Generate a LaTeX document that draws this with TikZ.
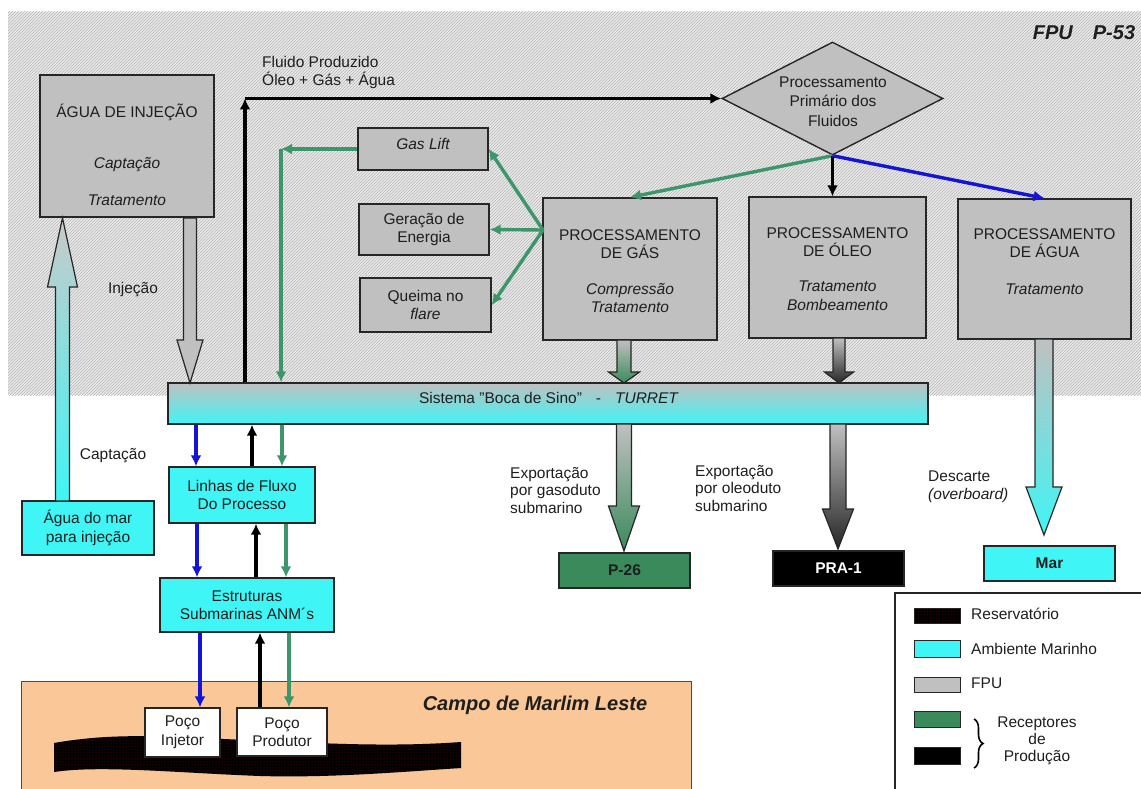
\documentclass[tikz,border=0pt]{standalone}
\usepackage{fontspec}
\setmainfont{Liberation Sans}
\usetikzlibrary{arrows.meta,shapes.geometric,patterns,shadings,decorations.pathreplacing}
\definecolor{boxgray}{RGB}{192,192,192}
\definecolor{seacyan}{RGB}{64,245,245}
\definecolor{lgreen}{RGB}{60,150,105}
\definecolor{pgreen}{RGB}{58,138,92}
\definecolor{lblue}{RGB}{20,20,215}
\definecolor{peach}{RGB}{250,200,152}
\definecolor{hatchbg}{RGB}{236,236,236}
\definecolor{txt}{RGB}{30,30,30}
\newcommand\blkarrow[7]{%
  \path[#1] (#2-#6,#3) -- (#2-#6,#4) -- (#2-#7,#4) -- (#2,#5) -- (#2+#7,#4) -- (#2+#6,#4) -- (#2+#6,#3) -- cycle;}
\begin{document}
\begin{tikzpicture}[x=1pt,y=-1pt,
  every node/.style={font=\fontsize{15.5}{18.5}\selectfont, text=txt, inner sep=0pt},
  bigf/.style={font=\fontsize{20}{24}\selectfont\bfseries\itshape},
  graybox/.style={draw=black!85, line width=1.4pt, fill=boxgray, align=center},
  seabox/.style={draw=black!85, line width=1.4pt, fill=seacyan, align=center},
  recbox/.style={draw=black!85, line width=1.4pt, align=center, font=\fontsize{15.5}{18.5}\selectfont\bfseries},
  kline/.style={line width=3.8pt, draw=black, -{Latex[length=11pt,width=11pt]}},
  gline/.style={line width=3.4pt, draw=lgreen, -{Latex[length=11pt,width=11pt]}},
  bline/.style={line width=3.4pt, draw=lblue, -{Latex[length=11pt,width=11pt]}},
  barrow/.style={draw=black!85, line width=1.2pt},
  swatch/.style={draw=black!85, line width=0.9pt}
]
\useasboundingbox (0,0) rectangle (1141,789);
\clip (0,0) rectangle (1141,789);
\fill[white] (0,0) rectangle (1141,789);
% FPU hatched area
\fill[hatchbg] (8,12) rectangle (1141,395);
\fill[pattern=north east lines, pattern color=gray!60] (8,12) rectangle (1141,395);
\node[bigf] (fputitle) at (1084,33) {FPU\hspace{20pt}P-53};

% field
\fill[peach, draw=black!70, line width=0.8pt] (21,681) rectangle (691,800);
\node[bigf] (campo) at (535,705) {Campo de Marlim Leste};
\path[fill=black] (54,743) .. controls (100,735) and (140,735) .. (200,738)
  .. controls (300,742) and (380,748) .. (461,742) -- (461,768)
  .. controls (400,772) and (330,778) .. (260,776)
  .. controls (180,773) and (100,765) .. (54,772) -- cycle;
\path[pattern=dots, pattern color=red!50!black] (54,743) .. controls (100,735) and (140,735) .. (200,738)
  .. controls (300,742) and (380,748) .. (461,742) -- (461,768)
  .. controls (400,772) and (330,778) .. (260,776)
  .. controls (180,773) and (100,765) .. (54,772) -- cycle;
\node[draw=black!85, line width=1.2pt, fill=white, align=center, minimum width=75pt, minimum height=49pt] (inj) at (182.5,732.5) {Poço\\Injetor};
\node[draw=black!85, line width=1.2pt, fill=white, align=center, minimum width=90pt, minimum height=48pt] (prod) at (282,732) {Poço\\Produtor};

% boxes
\node[graybox, minimum width=174pt, minimum height=142pt] (agua) at (127,146) {};
\node at (127,112) {ÁGUA DE INJEÇÃO};
\node at (127,165) {\itshape Captação};
\node at (127,200) {\itshape Tratamento};

\node[draw=black!85, line width=1.4pt, fill=boxgray, diamond, minimum width=221pt, minimum height=113pt] (prim) at (832.5,98.5) {};
\node[align=center, font=\fontsize{15.5}{19.5}\selectfont] at (833,101.5) {Processamento\\Primário dos\\Fluidos};

\node[graybox, minimum width=130pt, minimum height=42pt] (gaslift) at (423,149) {};
\node at (423,144) {\itshape Gas Lift};
\node[graybox, minimum width=130pt, minimum height=51pt] (geracao) at (424,229.5) {Geração de\\Energia};
\node[graybox, minimum width=131pt, minimum height=54pt] (queima) at (425.5,305) {Queima no\\\textit{flare}};

\node[graybox, minimum width=174pt, minimum height=142pt] (gas) at (630,269) {};
\node[align=center] at (630,244) {PROCESSAMENTO\\DE GÁS};
\node[align=center, font=\fontsize{15.5}{18.5}\selectfont\itshape] at (630,298) {Compressão\\Tratamento};
\node[graybox, minimum width=177pt, minimum height=141pt] (oleo) at (837.5,267.5) {};
\node[align=center] at (837.5,242) {PROCESSAMENTO\\DE ÓLEO};
\node[align=center, font=\fontsize{15.5}{18.5}\selectfont\itshape] at (837.5,295.5) {Tratamento\\Bombeamento};
\node[graybox, minimum width=173pt, minimum height=140pt] (aguap) at (1044.5,269) {};
\node[align=center] at (1044.5,243) {PROCESSAMENTO\\DE ÁGUA};
\node at (1044.5,289) {\itshape Tratamento};

% turret
\node[draw=black!85, line width=1.4pt, top color=boxgray, bottom color=seacyan, minimum width=760pt, minimum height=41pt] (turret) at (548,403.5) {};
\node at (549,398) {Sistema "Boca de Sino"\hspace{14pt}-\hspace{14pt}\textit{TURRET}};

\node[seabox, minimum width=146pt, minimum height=56pt] (linhas) at (242,495) {Linhas de Fluxo\\Do Processo};
\node[seabox, minimum width=174pt, minimum height=54pt] (estrut) at (247,605) {Estruturas\\Submarinas ANM´s};
\node[seabox, minimum width=132pt, minimum height=54pt] (aguamar) at (88,528) {Água do mar\\para injeção};

\node[recbox, fill=pgreen, minimum width=131pt, minimum height=35pt] (p26) at (624.5,570.5) {P-26};
\node[recbox, fill=black, text=white, minimum width=131pt, minimum height=35pt] (pra) at (838.5,568.5) {PRA-1};
\node[recbox, fill=seacyan, minimum width=131pt, minimum height=35pt] (mar) at (1049.5,563.5) {Mar};

% block arrows
\blkarrow{barrow, fill=boxgray}{190}{218}{340}{383}{6.5}{13}
\blkarrow{barrow, top color=boxgray!85, bottom color=seacyan}{62.5}{501}{287}{218}{7}{15}
\blkarrow{barrow, top color=boxgray, bottom color=pgreen}{624}{340}{372}{383}{7}{15.5}
\blkarrow{barrow, top color=boxgray, bottom color=black!85}{839}{338}{372}{383}{6}{14.5}
\blkarrow{barrow, top color=boxgray, bottom color=pgreen}{624}{424}{506}{551}{7.5}{15.5}
\blkarrow{barrow, top color=boxgray, bottom color=black!85}{838}{424}{509}{549}{8}{15.5}
\blkarrow{barrow, top color=boxgray, bottom color=seacyan}{1044}{339}{487}{535}{9}{18}

\node (lbinj) at (133,290) {Injeção};
\node (lbcap) at (113,456) {Captação};
\node[align=left, anchor=west, font=\fontsize{15.5}{17.5}\selectfont] (lbgas) at (510,490.5) {Exportação\\por gasoduto\\submarino};
\node[align=left, anchor=west, font=\fontsize{15.5}{17.5}\selectfont] (lbole) at (695,488.5) {Exportação\\por oleoduto\\submarino};
\node[align=left, anchor=west, font=\fontsize{15.5}{18}\selectfont] (lbdes) at (928,487) {Descarte\\\textit{(overboard)}};

% produced fluid line
\coordinate (fc) at (245,98.5);
\draw[kline] (turret.north -| fc) -- (fc);
\draw[kline] (fc) -- (prim.west);
\node[align=left, anchor=west] (lbfl) at (262,72.5) {Fluido Produzido\\Óleo + Gás + Água};

% gas lift line
\coordinate (gc) at (281,149);
\draw[gline] (gaslift.west) -- (gc);
\draw[gline] (gc) -- (gc |- turret.north);

% fan from gas processing
\coordinate (fan) at (543,230);
\draw[gline] (fan) -- (gaslift.east);
\draw[gline] (fan) -- (geracao.east);
\draw[gline] (fan) -- (queima.east);

% from primary processing
\draw[gline] (prim.south) -- (gas.north);
\draw[kline] (prim.south) -- (prim.south |- oleo.north);
\draw[bline] (prim.south) -- (aguap.north);

% turret <-> linhas
\coordinate (c1b) at (196,0); \coordinate (c1k) at (252,0); \coordinate (c1g) at (282,0);
\draw[bline] (turret.south -| c1b) -- (linhas.north -| c1b);
\draw[kline] (linhas.north -| c1k) -- (turret.south -| c1k);
\draw[gline] (turret.south -| c1g) -- (linhas.north -| c1g);
\coordinate (c2b) at (197,0); \coordinate (c2k) at (256,0); \coordinate (c2g) at (286,0);
\draw[bline] (linhas.south -| c2b) -- (estrut.north -| c2b);
\draw[kline] (estrut.north -| c2k) -- (linhas.south -| c2k);
\draw[gline] (linhas.south -| c2g) -- (estrut.north -| c2g);
\coordinate (c3b) at (200,0); \coordinate (c3k) at (260,0); \coordinate (c3g) at (289,0);
\draw[bline] (estrut.south -| c3b) -- (inj.north -| c3b);
\draw[kline] (prod.north -| c3k) -- (estrut.south -| c3k);
\draw[gline] (estrut.south -| c3g) -- (prod.north -| c3g);

% legend
\draw[fill=white, draw=black!85, line width=1.2pt] (895,593) rectangle (1150,800);
\path[swatch, fill=black] (914,608) rectangle (960,623);
\path[pattern=dots, pattern color=red!50!black] (914,608) rectangle (960,623);
\path[swatch, fill=seacyan] (914,640) rectangle (960,657);
\path[swatch, fill=boxgray] (914,677) rectangle (960,692);
\path[swatch, fill=pgreen] (914,711) rectangle (960,727);
\path[swatch, fill=black] (914,747) rectangle (960,764);
\node[anchor=west] (lg1) at (971,614) {Reservatório};
\node[anchor=west] (lg2) at (971,649) {Ambiente Marinho};
\node[anchor=west] (lg3) at (971,683) {FPU};
\draw[line width=1.6pt, decorate, decoration={brace, amplitude=9pt}] (974,719) -- (974,768);
\node[align=center, font=\fontsize{15.5}{17}\selectfont] (lg4) at (1037,741) {Receptores\\de\\Produção};
\end{tikzpicture}
\end{document}
